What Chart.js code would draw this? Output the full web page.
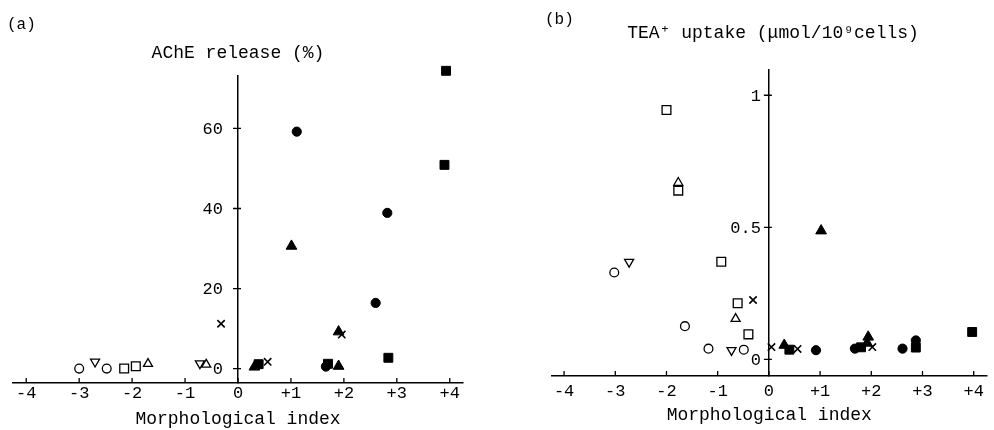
<!DOCTYPE html>
<html>
<head>
<meta charset="utf-8">
<script src="https://cdn.jsdelivr.net/npm/chart.js@4.4.1/dist/chart.umd.min.js"></script>
<style>
  body { margin: 0; background: #fff; }
  #wrap { position: relative; width: 994px; height: 430px; background: #fff; }
  #wrap canvas { position: absolute; top: 0; }
  #chartA { left: 0; }
  #chartB { left: 497px; }
  .tag { position: absolute; font: 16px "Liberation Mono", monospace; color: #000; }
</style>
</head>
<body>
<div id="wrap">
  <canvas id="chartA" width="497" height="430"></canvas>
  <canvas id="chartB" width="497" height="430"></canvas>
  <div class="tag" style="left:7px; top:16px;">(a)</div>
  <div class="tag" style="left:545px; top:11px;">(b)</div>
</div>
<script>
// x ticks shared by both panels
const xTicks = [-4, -3, -2, -1, 0, 1, 2, 3, 4];

// (a) AChE release (%) vs morphological index, [x, y]
const aTicksY = [0, 20, 40, 60];
const aOpenCircle = [[-3.0, 0.0], [-2.48, 0.0]];
const aOpenDown = [[-2.70, 1.7], [-0.72, 1.3]];
const aOpenSquare = [[-2.15, 0.0], [-1.93, 0.6]];
const aOpenTri = [[-1.70, 1.2], [-0.60, 1.0]];
const aCross = [[-0.32, 11.2], [0.56, 1.7], [1.96, 8.5]];
const aFilledTri = [[0.31, 0.4], [1.01, 30.6], [1.90, 9.2], [1.90, 0.6]];
const aFilledSquare = [[0.39, 1.1], [1.70, 1.2], [2.84, 2.7], [3.90, 50.9], [3.93, 74.4]];
const aFilledCircle = [[1.66, 0.5], [1.11, 59.2], [2.60, 16.4], [2.82, 38.9]];

// (b) TEA+ uptake vs morphological index, [x, y]
const bTicksY = [0, 0.5, 1];
const bOpenCircle = [[-3.02, 0.329], [-1.64, 0.126], [-1.18, 0.041], [-0.49, 0.037]];
const bOpenDown = [[-2.73, 0.369], [-0.73, 0.035]];
const bOpenSquare = [[-2.00, 0.944], [-1.77, 0.639], [-0.93, 0.370], [-0.61, 0.213], [-0.40, 0.095]];
const bOpenTri = [[-1.77, 0.669], [-0.65, 0.154]];
const bCross = [[-0.31, 0.225], [0.05, 0.047], [0.56, 0.040], [2.02, 0.047]];
const bFilledTri = [[0.30, 0.054], [1.02, 0.487], [1.94, 0.085], [1.92, 0.062]];
const bFilledSquare = [[0.40, 0.037], [1.80, 0.046], [2.87, 0.045], [3.97, 0.104]];
const bFilledCircle = [[0.92, 0.035], [1.68, 0.041], [2.61, 0.041], [2.87, 0.072]];

const FONT = "'Liberation Mono', monospace";

const styles = {
  openCircle: { shape: 'circle', r: 4.4, fill: '#fff', bw: 1.3 },
  openDown: { shape: 'triangle', rot: 180, r: 5.2, fill: '#fff', bw: 1.3 },
  openSquare: { shape: 'rect', r: 6.2, fill: '#fff', bw: 1.3 },
  openTri: { shape: 'triangle', r: 5.2, fill: '#fff', bw: 1.3 },
  cross: { shape: 'crossRot', r: 5.2, fill: '#000', bw: 1.6 },
  filledTri: { shape: 'triangle', r: 6.2, fill: '#000', bw: 1 },
  filledSquare: { shape: 'rect', r: 6.3, fill: '#000', bw: 1 },
  filledCircle: { shape: 'circle', r: 4.6, fill: '#000', bw: 1 }
};

function makeSet(data, st) {
  return {
    data: data,
    pointStyle: st.shape,
    rotation: st.rot || 0,
    pointRadius: st.r,
    pointHoverRadius: st.r,
    pointBackgroundColor: st.fill,
    pointBorderColor: '#000',
    pointBorderWidth: st.bw,
    showLine: false,
    clip: false
  };
}

// tick marks (up from the x axis, across the y axis) and the y tick labels,
// since Chart.js ignores tick padding on an axis placed at {x: 0}
const axisMarks = {
  id: 'axisMarks',
  afterDraw(chart, args, opts) {
    const { ctx, chartArea, scales: { x, y } } = chart;
    const x0 = x.getPixelForValue(0);
    ctx.save();
    ctx.strokeStyle = '#000';
    ctx.lineWidth = 1.3;
    ctx.beginPath();
    x.ticks.forEach(t => {
      const px = x.getPixelForValue(t.value);
      ctx.moveTo(px, chartArea.bottom);
      ctx.lineTo(px, chartArea.bottom - 5);
    });
    y.ticks.forEach(t => {
      const py = y.getPixelForValue(t.value);
      ctx.moveTo(x0 - 5, py);
      ctx.lineTo(x0 + 3, py);
    });
    ctx.stroke();

    ctx.fillStyle = '#000';
    ctx.font = '17px ' + FONT;
    ctx.textAlign = 'right';
    ctx.textBaseline = 'middle';
    y.ticks.forEach(t => {
      ctx.fillText(String(t.value), x0 - opts.labelGap, y.getPixelForValue(t.value) + 1);
    });
    ctx.restore();
  }
};

function xLabel(v) {
  if (v > 0) return '+' + v;
  return String(v);
}

function buildChart(id, cfg) {
  const ctx = document.getElementById(id).getContext('2d');
  return new Chart(ctx, {
    type: 'scatter',
    data: { datasets: cfg.sets },
    options: {
      responsive: false,
      animation: false,
      devicePixelRatio: 1,
      layout: { padding: cfg.padding },
      plugins: {
        legend: { display: false },
        tooltip: { enabled: false },
        axisMarks: { labelGap: cfg.yLabelGap },
        title: {
          display: true,
          text: cfg.yTitle,
          color: '#000',
          font: { family: FONT, size: 18, weight: 'normal' },
          padding: cfg.titlePad
        }
      },
      scales: {
        x: {
          type: 'linear',
          position: 'bottom',
          min: cfg.xMin,
          max: cfg.xMax,
          afterBuildTicks: s => { s.ticks = xTicks.map(v => ({ value: v })); },
          grid: { display: true, drawOnChartArea: false, drawTicks: false, lineWidth: 1.5, color: '#000' },
          border: { display: true, color: '#000', width: 1.5 },
          ticks: {
            color: '#000',
            font: { family: FONT, size: 17 },
            padding: cfg.xTickPad,
            autoSkip: false,
            maxRotation: 0,
            callback: v => xLabel(v)
          },
          title: {
            display: true,
            text: 'Morphological index',
            color: '#000',
            font: { family: FONT, size: 18 },
            padding: cfg.xTitlePad
          }
        },
        y: {
          type: 'linear',
          position: { x: 0 },
          min: cfg.yMin,
          max: cfg.yMax,
          afterBuildTicks: s => { s.ticks = cfg.yTicks.map(v => ({ value: v })); },
          grid: { display: true, drawOnChartArea: false, drawTicks: false, lineWidth: 1.5, color: '#000' },
          border: { display: true, color: '#000', width: 1.5 },
          ticks: { display: false }
        }
      }
    },
    plugins: [axisMarks]
  });
}

buildChart('chartA', {
  sets: [
    makeSet(aOpenCircle, styles.openCircle),
    makeSet(aOpenDown, styles.openDown),
    makeSet(aOpenSquare, styles.openSquare),
    makeSet(aOpenTri, styles.openTri),
    makeSet(aCross, styles.cross),
    makeSet(aFilledCircle, styles.filledCircle),
    makeSet(aFilledSquare, styles.filledSquare),
    makeSet(aFilledTri, styles.filledTri)
  ],
  yTitle: 'AChE release (%)',
  yTicks: aTicksY,
  xMin: -4.25, xMax: 4.25,
  yMin: -3.6, yMax: 73.2,
  padding: { left: 13, right: 34, top: 30, bottom: 0 },
  titlePad: { top: 12, bottom: 12 },
  xTickPad: 0,
  xTitlePad: { top: 5, bottom: 0 },
  yLabelGap: 15
});

buildChart('chartB', {
  sets: [
    makeSet(bOpenCircle, styles.openCircle),
    makeSet(bOpenDown, styles.openDown),
    makeSet(bOpenSquare, styles.openSquare),
    makeSet(bOpenTri, styles.openTri),
    makeSet(bCross, styles.cross),
    makeSet(bFilledCircle, styles.filledCircle),
    makeSet(bFilledSquare, styles.filledSquare),
    makeSet(bFilledTri, styles.filledTri)
  ],
  yTitle: 'TEA\u207A uptake (\u03BCmol/10\u2079cells)',
  yTicks: bTicksY,
  xMin: -4.236, xMax: 4.25,
  yMin: -0.0626, yMax: 1.097,
  padding: { left: 55, right: 0, top: 10, bottom: 4 },
  titlePad: { top: 12, bottom: 26 },
  xTickPad: 5.5,
  xTitlePad: { top: -3, bottom: 0 },
  yLabelGap: 8
});
</script>
</body>
</html>
